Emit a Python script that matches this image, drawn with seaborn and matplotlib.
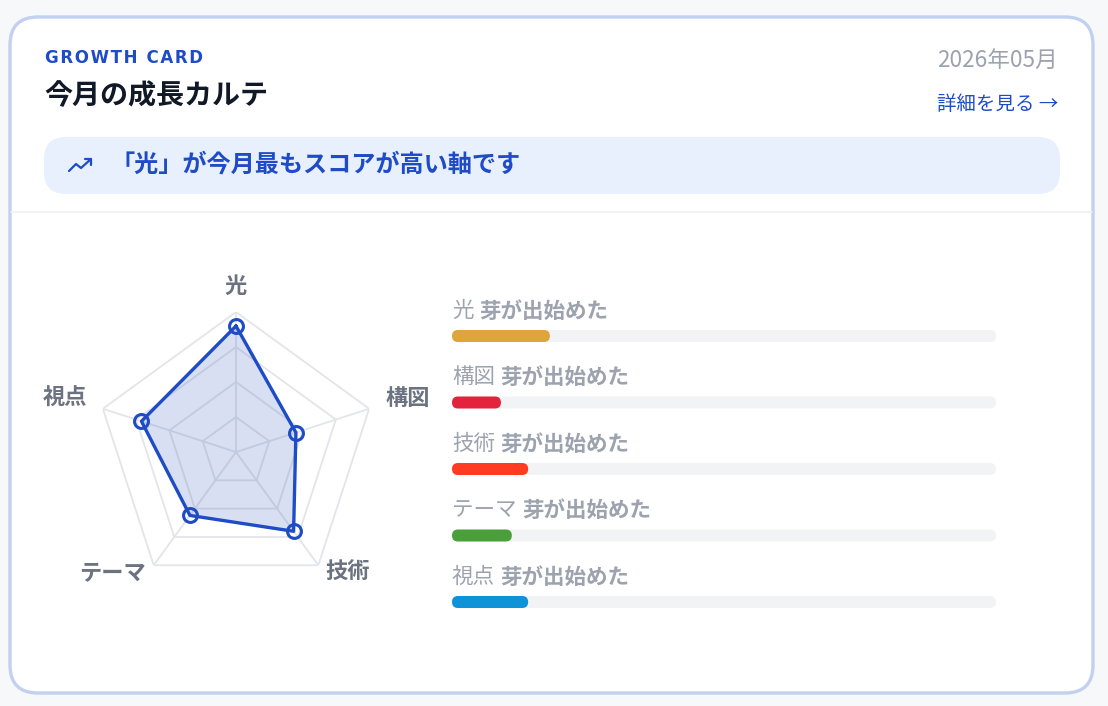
import numpy as np
import matplotlib
matplotlib.use("Agg")
import matplotlib.pyplot as plt
from matplotlib.patches import FancyBboxPatch
import seaborn as sns

# data
axes_names = ["光", "構図", "技術", "テーマ", "視点"]
radar_scores = [90, 45, 70, 56, 71]
progress = [0.18, 0.09, 0.14, 0.11, 0.14]
status = ["芽が出始めた"] * 5
bar_colors = ["#E0A43C", "#E3223C", "#FF3B22", "#4B9F3A", "#0F93D8"]
grid_levels = [25, 50, 75, 100]

sns.set_theme(style="white")
plt.rcParams["font.family"] = ["Noto Sans CJK JP", "DejaVu Sans"]

blue = "#1E4BC6"
gray = "#9CA3AF"
dark_gray = "#6B7280"

W, H = 1108, 706
fig = plt.figure(figsize=(W / 100, H / 100), dpi=100, facecolor="#F7F8FA")

# background axes in pixel units
bg = fig.add_axes([0, 0, 1, 1])
bg.set_xlim(0, W)
bg.set_ylim(H, 0)
bg.set_axis_off()

# card
card = FancyBboxPatch((10, 17), 1083, 676, boxstyle="round,pad=0,rounding_size=28",
                      fc="white", ec="#C2D1EF", lw=2.4)
bg.add_patch(card)

# header
bg.text(45, 58, "\u200a".join("GROWTH CARD"), fontsize=12, fontweight="bold",
        color=blue, va="center", ha="left", family=["DejaVu Sans"])
bg.text(44, 96, "今月の成長カルテ", fontsize=20.2, fontweight="bold",
        color="#111827", va="center", ha="left")
bg.text(1058, 60, "2026年05月", fontsize=16.3, color=gray, va="center", ha="right")
bg.text(1058, 105, "詳細を見る →", fontsize=14, color=blue, va="center", ha="right")

# banner
banner = FancyBboxPatch((44, 137), 1016, 57, boxstyle="round,pad=0,rounding_size=22",
                        fc="#E8F0FD", ec="none")
bg.add_patch(banner)
bg.plot([69, 76, 81, 91], [171, 164, 168, 159], color=blue, lw=1.6,
        solid_capstyle="round", solid_joinstyle="round")
bg.plot([85, 91, 91], [159, 159, 165], color=blue, lw=1.6,
        solid_capstyle="round", solid_joinstyle="round")
bg.text(110, 165, "「光」が今月最もスコアが高い軸です", fontsize=17.4, fontweight="bold",
        color=blue, va="center", ha="left")

# separator
bg.plot([11, 1092], [212, 212], color="#EEF0F3", lw=1.2)

# radar chart
cx, cy, R = 236, 452, 140
rax = fig.add_axes([(cx - R) / W, (H - cy - R) / H, 2 * R / W, 2 * R / H],
                   projection="polar")
rax.set_theta_offset(np.pi / 2)
rax.set_theta_direction(-1)
rax.set_ylim(0, 100)
rax.set_axis_off()

n = len(axes_names)
theta = np.linspace(0, 2 * np.pi, n, endpoint=False)
theta_c = np.append(theta, theta[0])

for lv in grid_levels:
    rax.plot(theta_c, [lv] * (n + 1), color="#E3E5EA", lw=1.3, zorder=1)
for t in theta:
    rax.plot([t, t], [0, 100], color="#E3E5EA", lw=1.3, zorder=1)

vals = np.append(radar_scores, radar_scores[0])
rax.fill(theta_c, vals, color="#2A50B8", alpha=0.18, lw=0, zorder=2)
rax.plot(theta_c, vals, color=blue, lw=2.4, zorder=3)
rax.plot(theta, radar_scores, "o", ms=10, mfc="none", mec=blue, mew=2.2, zorder=4)

# (radius, ha, va, y shift in points)
label_pos = [(118, "center", "center", 0), (112, "left", "center", 4),
             (109, "left", "center", 2), (109, "right", "center", 2),
             (112, "right", "center", 4)]
for t, name, (r, ha, va, dy) in zip(theta, axes_names, label_pos):
    rax.annotate(name, xy=(t, r), xytext=(0, dy), textcoords="offset points",
                 fontsize=16, fontweight="bold", color=dark_gray, ha=ha, va=va,
                 annotation_clip=False)

# progress bars
row = 66.5
bx0, bx1 = 452, 996
top = 336 - row / 2
bottom = 602 + row / 2
bax = fig.add_axes([bx0 / W, (H - bottom) / H, (bx1 - bx0) / W, (bottom - top) / H])
sns.barplot(x=[1.0] * n, y=axes_names, color="#F2F3F5", width=12 / row,
            orient="h", ax=bax, saturation=1)
sns.barplot(x=progress, y=axes_names, hue=axes_names, palette=bar_colors,
            width=12 / row, orient="h", ax=bax, saturation=1, legend=False)
bax.set_xlim(0, 1)
bax.set_axis_off()

aspect = (bx1 - bx0) / row
rad = 6 / (bx1 - bx0)
for p in list(bax.patches):
    x, y = p.get_xy()
    w, h = p.get_width(), p.get_height()
    fc = p.get_facecolor()
    z = p.get_zorder()
    p.remove()
    bax.add_patch(FancyBboxPatch((x, y), w, h, boxstyle=f"round,pad=0,rounding_size={rad}",
                                 mutation_aspect=aspect, fc=fc, ec="none", zorder=z))

for i, (name, st) in enumerate(zip(axes_names, status)):
    t1 = bax.text(0, i - 25 / row, name, fontsize=15.5, color=gray, ha="left", va="center")
    bax.annotate(st, xy=(1, 0.5), xycoords=t1, xytext=(4, 0), textcoords="offset points",
                 fontsize=15.5, fontweight="bold", color=gray, ha="left", va="center")

fig.savefig("out.png", dpi=100, facecolor=fig.get_facecolor())
